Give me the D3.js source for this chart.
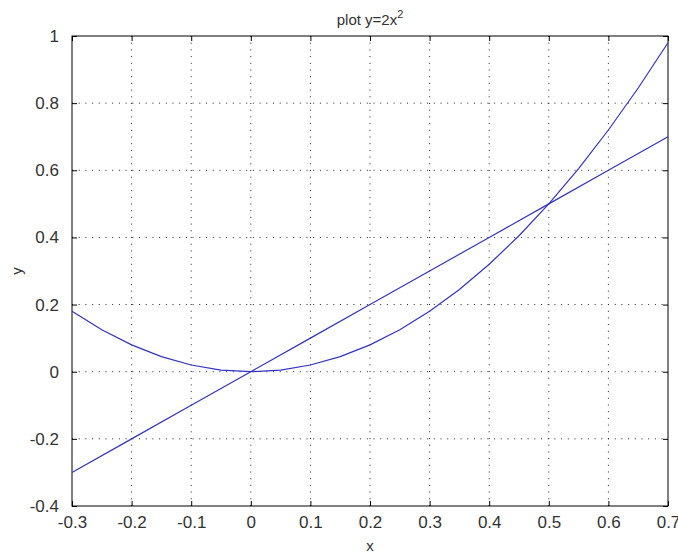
<!DOCTYPE html>
<html>
<head>
<meta charset="utf-8">
<script src="https://cdn.jsdelivr.net/npm/d3@7"></script>
<style>
  body { margin: 0; background: #fff; }
  svg text { font-family: "Liberation Sans", Arial, sans-serif; fill: #333; }
  .tick line { stroke: #000; }
  .domain { display: none; }
</style>
</head>
<body>
<script>
// values
const xTicks = [-0.3, -0.2, -0.1, 0, 0.1, 0.2, 0.3, 0.4, 0.5, 0.6, 0.7];
const yTicks = [-0.4, -0.2, 0, 0.2, 0.4, 0.6, 0.8, 1];
const curveX = [-0.3, -0.25, -0.2, -0.15, -0.1, -0.05, 0, 0.05, 0.1, 0.15, 0.2,
  0.25, 0.3, 0.35, 0.4, 0.45, 0.5, 0.55, 0.6, 0.65, 0.7];
const curveY = [0.18, 0.125, 0.08, 0.045, 0.02, 0.005, 0, 0.005, 0.02, 0.045, 0.08,
  0.125, 0.18, 0.245, 0.32, 0.405, 0.5, 0.605, 0.72, 0.845, 0.98];
const lineX = [-0.3, -0.2, -0.1, 0, 0.1, 0.2, 0.3, 0.4, 0.5, 0.6, 0.7];
const lineY = [-0.3, -0.2, -0.1, 0, 0.1, 0.2, 0.3, 0.4, 0.5, 0.6, 0.7];

const W = 678, H = 555;
const m = { left: 72, top: 36, right: 10, bottom: 49 };
const iw = W - m.left - m.right, ih = H - m.top - m.bottom;
const blue = '#3333c4';

const svg = d3.select('body').append('svg')
  .attr('width', W).attr('height', H);

const x = d3.scaleLinear().domain([-0.3, 0.7]).range([0, iw]);
const y = d3.scaleLinear().domain([-0.4, 1]).range([ih, 0]);
const fmt = d => String(+d.toFixed(1)); // plain hyphen minus like the original

const g = svg.append('g').attr('transform', `translate(${m.left},${m.top})`);

// dotted grid
g.append('g').selectAll('line').data(xTicks.slice(1, -1)).enter().append('line')
  .attr('x1', d => x(d)).attr('x2', d => x(d))
  .attr('y1', 0).attr('y2', ih)
  .attr('stroke', '#222').attr('stroke-dasharray', '1,5.7');
g.append('g').selectAll('line').data(yTicks.slice(1, -1)).enter().append('line')
  .attr('x1', 0).attr('x2', iw)
  .attr('y1', d => y(d)).attr('y2', d => y(d))
  .attr('stroke', '#222').attr('stroke-dasharray', '1,5.7');

// axes with inward ticks
const bottom = g.append('g').attr('transform', `translate(0,${ih})`)
  .call(d3.axisBottom(x).tickValues(xTicks).tickSizeInner(-5).tickSizeOuter(0).tickPadding(10).tickFormat(fmt));
bottom.selectAll('text').attr('font-size', 17);
g.append('g')
  .call(d3.axisTop(x).tickValues(xTicks).tickSizeInner(-5).tickSizeOuter(0).tickFormat(''));
const left = g.append('g')
  .call(d3.axisLeft(y).tickValues(yTicks).tickSizeInner(-5).tickSizeOuter(0).tickPadding(13).tickFormat(fmt));
left.selectAll('text').attr('font-size', 17);
g.append('g').attr('transform', `translate(${iw},0)`)
  .call(d3.axisRight(y).tickValues(yTicks).tickSizeInner(-5).tickSizeOuter(0).tickFormat(''));

// box
g.append('rect').attr('width', iw).attr('height', ih)
  .attr('fill', 'none').attr('stroke', '#000').attr('stroke-width', 1);

// series
const line = d3.line().x(d => x(d[0])).y(d => y(d[1]));
g.append('path').datum(d3.zip(curveX, curveY))
  .attr('d', line).attr('fill', 'none').attr('stroke', blue).attr('stroke-width', 1.2);
g.append('path').datum(d3.zip(lineX, lineY))
  .attr('d', line).attr('fill', 'none').attr('stroke', blue).attr('stroke-width', 1.2);

// title and labels
const title = svg.append('text').attr('x', m.left + iw / 2).attr('y', 25)
  .attr('text-anchor', 'middle').attr('font-size', 15);
title.append('tspan').text('plot y=2x');
title.append('tspan').attr('dy', -7).attr('font-size', 11).text('2');

svg.append('text').attr('x', m.left + iw / 2).attr('y', 551)
  .attr('text-anchor', 'middle').attr('font-size', 15).text('x');
svg.append('text')
  .attr('transform', `translate(22,${m.top + ih / 2}) rotate(-90)`)
  .attr('text-anchor', 'middle').attr('font-size', 15).text('y');
</script>
</body>
</html>
